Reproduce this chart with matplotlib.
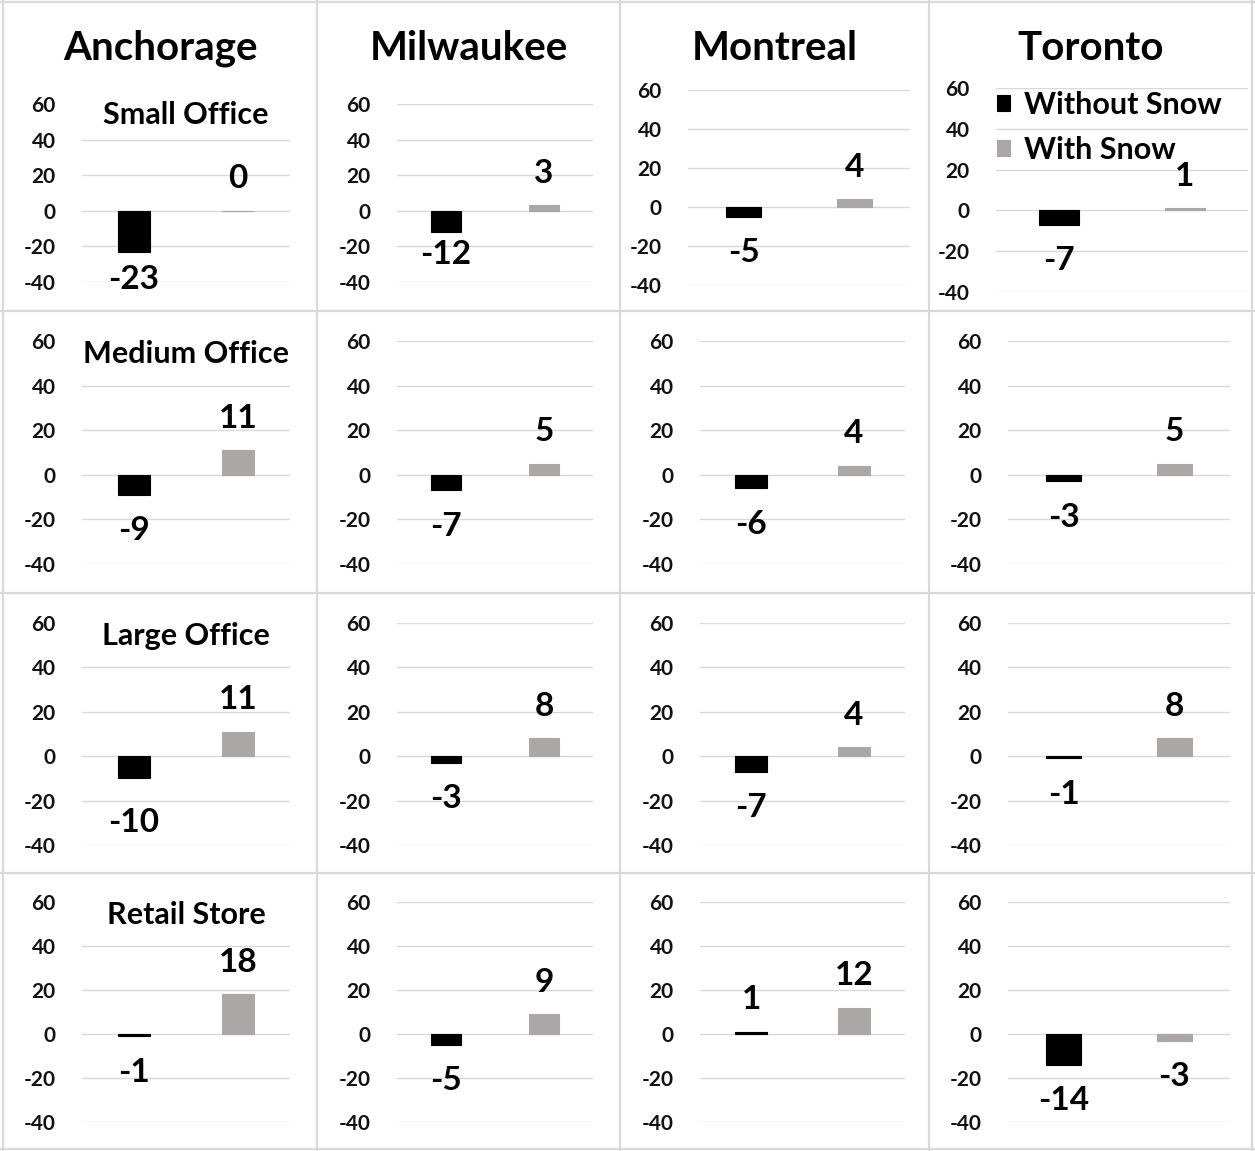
import matplotlib.pyplot as plt
from matplotlib.lines import Line2D

plt.rcParams['font.family'] = ['Lato', 'DejaVu Sans']

cities = ['Anchorage', 'Milwaukee', 'Montreal', 'Toronto']
buildings = ['Small Office', 'Medium Office', 'Large Office', 'Retail Store']
series_names = ['Without Snow', 'With Snow']
without_snow = [[-23, -12, -5, -7],
                [-9, -7, -6, -3],
                [-10, -3, -7, -1],
                [-1, -5, 1, -14]]
with_snow = [[0, 3, 4, 1],
             [11, 5, 4, 5],
             [11, 8, 4, 8],
             [18, 9, 12, -3]]
y_ticks = [-40, -20, 0, 20, 40, 60]

BLACK = '#000000'
GRAY = '#aba7a7'
GRID = '#d9d9d9'

W, H = 1255, 1151
fig = plt.figure(figsize=(W / 100, H / 100), dpi=100)


def px_rect(x0, x1, y0, y1):
    return [x0 / W, 1 - y1 / H, (x1 - x0) / W, (y1 - y0) / H]


# plot-area extents in pixels for each small chart
x_first_row = [(82, 290), (397, 593), (688, 910), (996, 1248)]
x_other_rows = [(82, 290), (397, 593), (700, 905), (1008, 1230)]
y_first_row = [(104, 282), (104, 282), (90, 285), (88, 292)]
y_other_rows = [(341, 564), (623, 845), (902, 1122)]

# hand nudges (px) for a few labels that sit closer/further from their bars
nudge = {(0, 0): 8, (0, 1): 14, (2, 0): -8}

for r in range(4):
    for c in range(4):
        xs = x_first_row[c] if r == 0 else x_other_rows[c]
        ys = y_first_row[c] if r == 0 else y_other_rows[r - 1]
        ax = fig.add_axes(px_rect(xs[0], xs[1], ys[0], ys[1]))
        vals = [without_snow[r][c], with_snow[r][c]]
        bars = ax.bar([0, 1], vals, width=0.31, color=[BLACK, GRAY],
                      edgecolor=[BLACK, GRAY], linewidth=0.8, zorder=3)
        ax.set_xlim(-0.5, 1.5)
        ax.set_ylim(-40, 60)
        ax.set_yticks(y_ticks, [str(t) for t in y_ticks],
                      fontsize=15, fontweight='bold', color='#111111')
        ax.set_xticks([])
        ax.tick_params(axis='y', length=0, pad=19)
        ax.grid(axis='y', color=GRID, linewidth=1.0, zorder=0)
        for s in ax.spines.values():
            s.set_visible(False)
        if c == 0:
            # the row title sits over the top gridline
            ax.get_ygridlines()[-1].set_visible(False)
            ax.text(0.5, 54, buildings[r], transform=ax.get_yaxis_transform(),
                    ha='center', va='center', fontsize=22, fontweight='bold')

        for i, v in enumerate(vals):
            if v < 0:
                off = -36
                if i == 0:
                    off += nudge.get((r, c), 0)
            else:
                off = 32
            ax.annotate(str(v), (i, v), xytext=(0, off * 0.72), textcoords='offset points',
                        ha='center', va='center', fontsize=24, fontweight='bold')

        if r == 0 and c == 3:
            ax.legend(bars, series_names, loc='upper left',
                      bbox_to_anchor=(997 / W, 1 - 91 / H), bbox_transform=fig.transFigure,
                      frameon=False, prop={'weight': 'bold', 'size': 22},
                      handlelength=0.42, handleheight=0.42, handletextpad=0.45,
                      labelspacing=0.55, borderpad=0, borderaxespad=0)

# city headers
col_bounds = [3, 317, 620, 929, 1252]
for c, name in enumerate(cities):
    cx = (col_bounds[c] + col_bounds[c + 1]) / 2
    fig.text(cx / W, 1 - 48 / H, name, ha='center', va='center',
             fontsize=29, fontweight='bold')

# light cell borders
row_bounds = [2, 311, 593, 873, 1149]
for x in col_bounds:
    fig.add_artist(Line2D([x / W, x / W], [0, 1], color=GRID, linewidth=1.6))
for y in row_bounds:
    fig.add_artist(Line2D([0, 1], [1 - y / H, 1 - y / H], color=GRID, linewidth=1.6))

fig.savefig('out.png', dpi=100, facecolor='white')
